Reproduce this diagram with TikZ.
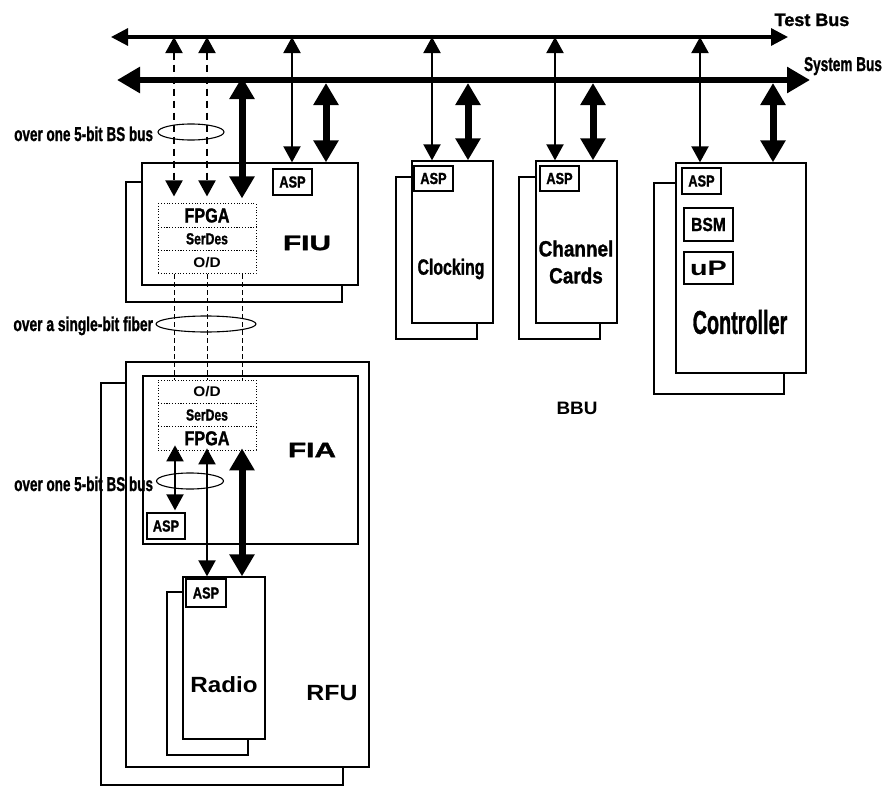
\documentclass[tikz,border=0pt]{standalone}
\usepackage{fontspec}
\setmainfont{Liberation Sans}
\newfontfamily\heavyfam[FakeBold=1.4]{Liberation Sans}
\usepackage{graphicx}
\usetikzlibrary{arrows.meta,fit,shapes.geometric}
\newcommand\sx[3]{{\fontsize{#1}{#1}\selectfont\bfseries\scalebox{#2}[1]{#3}}}
\newcommand\nx[3]{{\heavyfam\fontsize{#1}{#1}\selectfont\bfseries\scalebox{#2}[1]{#3}}}
\begin{document}
\begin{tikzpicture}[x=1pt,y=-1pt,
 box/.style={draw,line width=1.3pt,fill=white,inner sep=0pt,rectangle},
 cell/.style={draw,dotted,line width=0.8pt,inner sep=0pt,rectangle,minimum width=98pt,minimum height=23.3pt},
 lbl/.style={inner sep=0pt,outer sep=0pt},
 tarr/.style={line width=2pt,{Triangle[length=16pt,width=17pt]}-{Triangle[length=16pt,width=17pt]}},
 karr/.style={line width=7pt,{Triangle[length=22pt,width=24pt]}-{Triangle[length=22pt,width=24pt]}},
 darr/.style={tarr,dash pattern=on 7pt off 5pt},
 fib/.style={line width=0.9pt,dash pattern=on 5pt off 3pt},
 ring/.style={draw,ellipse,line width=1.1pt,inner sep=0pt},
]
\useasboundingbox (0,0) rectangle (884,787);

% ---------- boxes ----------
\node[box,fit={(126,182) (342,302)}] (fiuB) {};
\node[box,fit={(142,163) (358,285)}] (fiu) {};
\node[box,minimum width=39pt,minimum height=26pt] (fiuasp) at (292.5,182) {\nx{16}{0.8}{ASP}};
\node[cell] (fiu1) at (207,215.5) {\nx{20}{0.81}{FPGA}};
\node[cell] (fiu2) at (207,238.8) {\nx{16}{0.76}{SerDes}};
\node[cell] (fiu3) at (207,262.1) {\sx{14}{1.1}{O/D}};
\node[lbl] at (307,243) {\nx{21}{1.42}{FIU}};

\node[box,fit={(396,177) (477,339)}] (clkB) {};
\node[box,fit={(412,161) (493,323)}] (clk) {};
\node[box,minimum width=39pt,minimum height=25pt] (clkasp) at (433.5,178.5) {\nx{16}{0.8}{ASP}};
\node[lbl] at (451,269) {\nx{22}{0.72}{Clocking}};

\node[box,fit={(519,177) (600,339)}] (chB) {};
\node[box,fit={(536,161) (617,323)}] (ch) {};
\node[box,minimum width=39pt,minimum height=25pt] (chasp) at (559.5,178.5) {\nx{16}{0.8}{ASP}};
\node[lbl,align=center,font=\heavyfam\fontsize{22}{27}\selectfont\bfseries] at (576,262) {\scalebox{0.86}[1]{Channel}\\\scalebox{0.86}[1]{Cards}};

\node[box,fit={(654,183) (784,394)}] (ctlB) {};
\node[box,fit={(676,163) (806,373)}] (ctl) {};
\node[box,minimum width=39pt,minimum height=26pt] (ctlasp) at (701.5,181) {\nx{16}{0.8}{ASP}};
\node[box,minimum width=49pt,minimum height=33pt] (bsm) at (708.5,224.5) {\nx{19}{0.82}{BSM}};
\node[box,minimum width=49pt,minimum height=32pt] (up) at (708.5,268) {\sx{21}{1.37}{uP}};
\node[lbl] at (740,322) {\nx{33}{0.6}{Controller}};

\node[lbl] at (577,408) {\sx{18}{1.05}{BBU}};

\node[box,fit={(101,383) (343,785)}] (rfuB) {};
\node[box,fit={(126,362) (369,767)}] (rfu) {};
\node[box,fit={(143,376) (358,544)}] (fia) {};
\node[cell] (fia1) at (207,391.7) {\sx{14}{1.1}{O/D}};
\node[cell] (fia2) at (207,415) {\nx{16}{0.76}{SerDes}};
\node[cell] (fia3) at (207,438.3) {\nx{20}{0.81}{FPGA}};
\node[lbl] at (312,450) {\nx{21}{1.42}{FIA}};
\node[box,minimum width=38pt,minimum height=26pt] (fiaasp) at (166,526) {\nx{16}{0.8}{ASP}};

\node[box,fit={(167,592) (248,755)}] (radB) {};
\node[box,fit={(183,577) (265,739)}] (rad) {};
\node[box,minimum width=40pt,minimum height=28pt] (radasp) at (206,593) {\nx{16}{0.8}{ASP}};
\node[lbl] at (224,685) {\sx{22}{1.1}{Radio}};
\node[lbl] at (332,693) {\sx{22}{1.13}{RFU}};

% ---------- buses ----------
\coordinate (tL) at (111,37); \coordinate (tR) at (788,37);
\coordinate (sL) at (117,80); \coordinate (sR) at (810,80);
\draw[line width=3.2pt,{Triangle[length=17pt,width=17pt]}-{Triangle[length=17pt,width=17pt]}] (tL) -- (tR);
\draw[line width=5.8pt,{Triangle[length=23pt,width=25pt]}-{Triangle[length=23pt,width=25pt]}] (sL) -- (sR);
\node[lbl,anchor=base] at (812,26) {\nx{18}{1.0}{Test Bus}};
\node[lbl,anchor=base] at (843,71) {\nx{20}{0.68}{System Bus}};

% ---------- tap x positions ----------
\coordinate (a1) at (174,0); \coordinate (a2) at (207,0); \coordinate (a3) at (242,0);
\coordinate (a4) at (292,0); \coordinate (a5) at (326,0);
\coordinate (a6) at (432,0); \coordinate (a7) at (468,0);
\coordinate (a8) at (555,0); \coordinate (a9) at (593,0);
\coordinate (a10) at (700,0); \coordinate (a11) at (773,0);
\coordinate (b1) at (175,0);

% ---------- FIU connectors ----------
\draw[darr,shorten >=7pt] (a1 |- tL) -- (a1 |- fiu1.north);
\draw[darr,shorten >=7pt] (a2 |- tL) -- (a2 |- fiu1.north);
\draw[karr,shorten <=-3pt,shorten >=5pt] (a3 |- sL) -- (a3 |- fiu1.north);
\draw[tarr] (a4 |- tL) -- (a4 |- fiu.north);
\draw[karr,shorten <=3pt] (a5 |- sL) -- (a5 |- fiu.north);

% ---------- card connectors ----------
\draw[tarr] (a6 |- tL) -- (a6 |- clk.north);
\draw[karr,shorten <=3pt] (a7 |- sL) -- (a7 |- clk.north);
\draw[tarr] (a8 |- tL) -- (a8 |- ch.north);
\draw[karr,shorten <=3pt] (a9 |- sL) -- (a9 |- ch.north);
\draw[tarr] (a10 |- tL) -- (a10 |- ctl.north);
\draw[karr,shorten <=3pt] (a11 |- sL) -- (a11 |- ctl.north);

% ---------- fiber ----------
\draw[fib] (a1 |- fiu3.south) -- (a1 |- fia1.north);
\draw[fib] (a2 |- fiu3.south) -- (a2 |- fia1.north);
\draw[fib] (a3 |- fiu3.south) -- (a3 |- fia1.north);

% ---------- FIA connectors ----------
\draw[tarr,shorten <=-5pt,shorten >=2pt] (b1 |- fia3.south) -- (b1 |- fiaasp.north);
\draw[tarr,shorten <=-2pt] (a2 |- fia3.south) -- (a2 |- rad.north);
\draw[karr,shorten <=-2pt] (a3 |- fia3.south) -- (a3 |- rad.north);

% ---------- bundle rings and labels ----------
\node[ring,minimum width=66pt,minimum height=16pt] (e1) at (191,132) {};
\node[ring,minimum width=100pt,minimum height=16pt] (e2) at (206,324) {};
\node[ring,minimum width=67pt,minimum height=16pt] (e3) at (190,481) {};
\node[lbl,anchor=base east] (l1) at (153,141) {\nx{20}{0.675}{over one 5-bit BS bus}};
\node[lbl,anchor=base east] (l2) at (153,331) {\nx{20}{0.69}{over a single-bit fiber}};
\node[lbl,anchor=base east] (l3) at (153,491) {\nx{20}{0.675}{over one 5-bit BS bus}};
\end{tikzpicture}
\end{document}
